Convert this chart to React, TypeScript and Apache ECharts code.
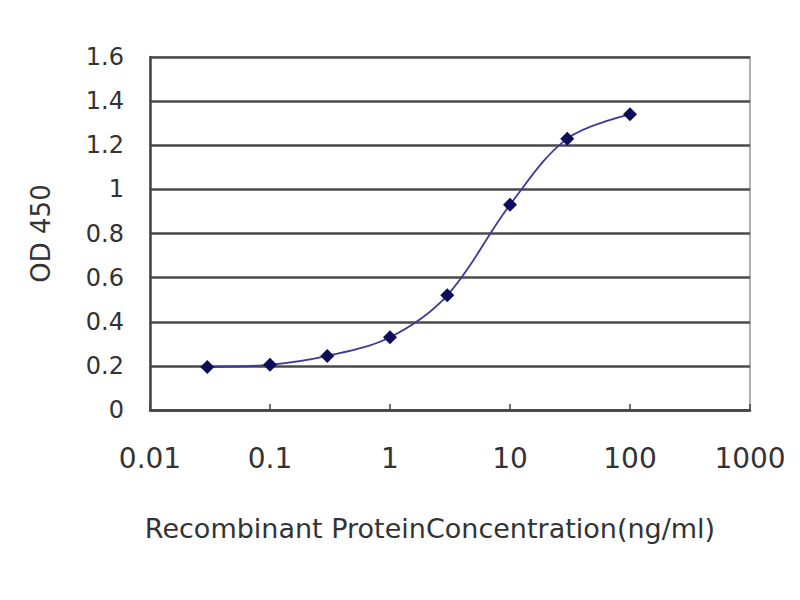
import React, { useEffect, useRef } from "react";
import * as echarts from "echarts";

const concentrations = [0.03, 0.1, 0.3, 1, 3, 10, 30, 100];
const odValues = [0.195, 0.205, 0.245, 0.33, 0.52, 0.93, 1.23, 1.34];
const xTickLabels = ["0.01", "0.1", "1", "10", "100", "1000"];
const xAxisTitle = "Recombinant ProteinConcentration(ng/ml)";
const yAxisTitle = "OD 450";

export default function App() {
  const ref = useRef<HTMLDivElement>(null);
  useEffect(() => {
    document.body.style.margin = "0";
    const chart = echarts.init(ref.current!, undefined, { renderer: "svg" });
    const font = "DejaVu Sans, Verdana, sans-serif";
    chart.setOption({
      animation: false,
      backgroundColor: "#ffffff",
      grid: {
        left: 150,
        right: 50,
        top: 57,
        bottom: 190,
        show: true,
        borderColor: "#b0b0b0",
        borderWidth: 2,
        backgroundColor: "transparent",
      },
      xAxis: {
        type: "log",
        logBase: 10,
        min: 0.01,
        max: 1000,
        name: xAxisTitle,
        nameLocation: "middle",
        nameGap: 105,
        nameTextStyle: { fontFamily: font, fontSize: 27, color: "#333", padding: [0, 40, 0, 0] },
        axisLine: { show: true, lineStyle: { color: "#444", width: 2.5 } },
        axisTick: { show: true, inside: true, length: 6, lineStyle: { color: "#444", width: 1.5 } },
        splitLine: { show: false },
        minorTick: { show: false },
        axisLabel: {
          fontFamily: font,
          fontSize: 28,
          color: "#333",
          margin: 34,
          formatter: (v: number) => {
            const i = Math.round(Math.log10(v)) + 2;
            return xTickLabels[i] ?? String(v);
          },
        },
      },
      yAxis: {
        type: "value",
        min: 0,
        max: 1.6,
        interval: 0.2,
        name: yAxisTitle,
        nameLocation: "middle",
        nameGap: 96,
        nameRotate: 90,
        nameTextStyle: { fontFamily: font, fontSize: 26, color: "#333" },
        axisLine: { show: true, lineStyle: { color: "#444", width: 2.5 } },
        axisTick: { show: false },
        axisLabel: { fontFamily: font, fontSize: 24, color: "#333", margin: 26 },
        splitLine: { show: true, lineStyle: { color: "#4a4a4a", width: 2.5 } },
      },
      series: [
        {
          type: "line",
          data: concentrations.map((c, i) => [c, odValues[i]]),
          smooth: 0.35,
          symbol: "diamond",
          symbolSize: 14,
          lineStyle: { color: "#3c3c96", width: 1.8 },
          itemStyle: { color: "#0d0d5a" },
        },
      ],
    });
    return () => chart.dispose();
  }, []);
  return <div ref={ref} style={{ width: 800, height: 600 }} />;
}
